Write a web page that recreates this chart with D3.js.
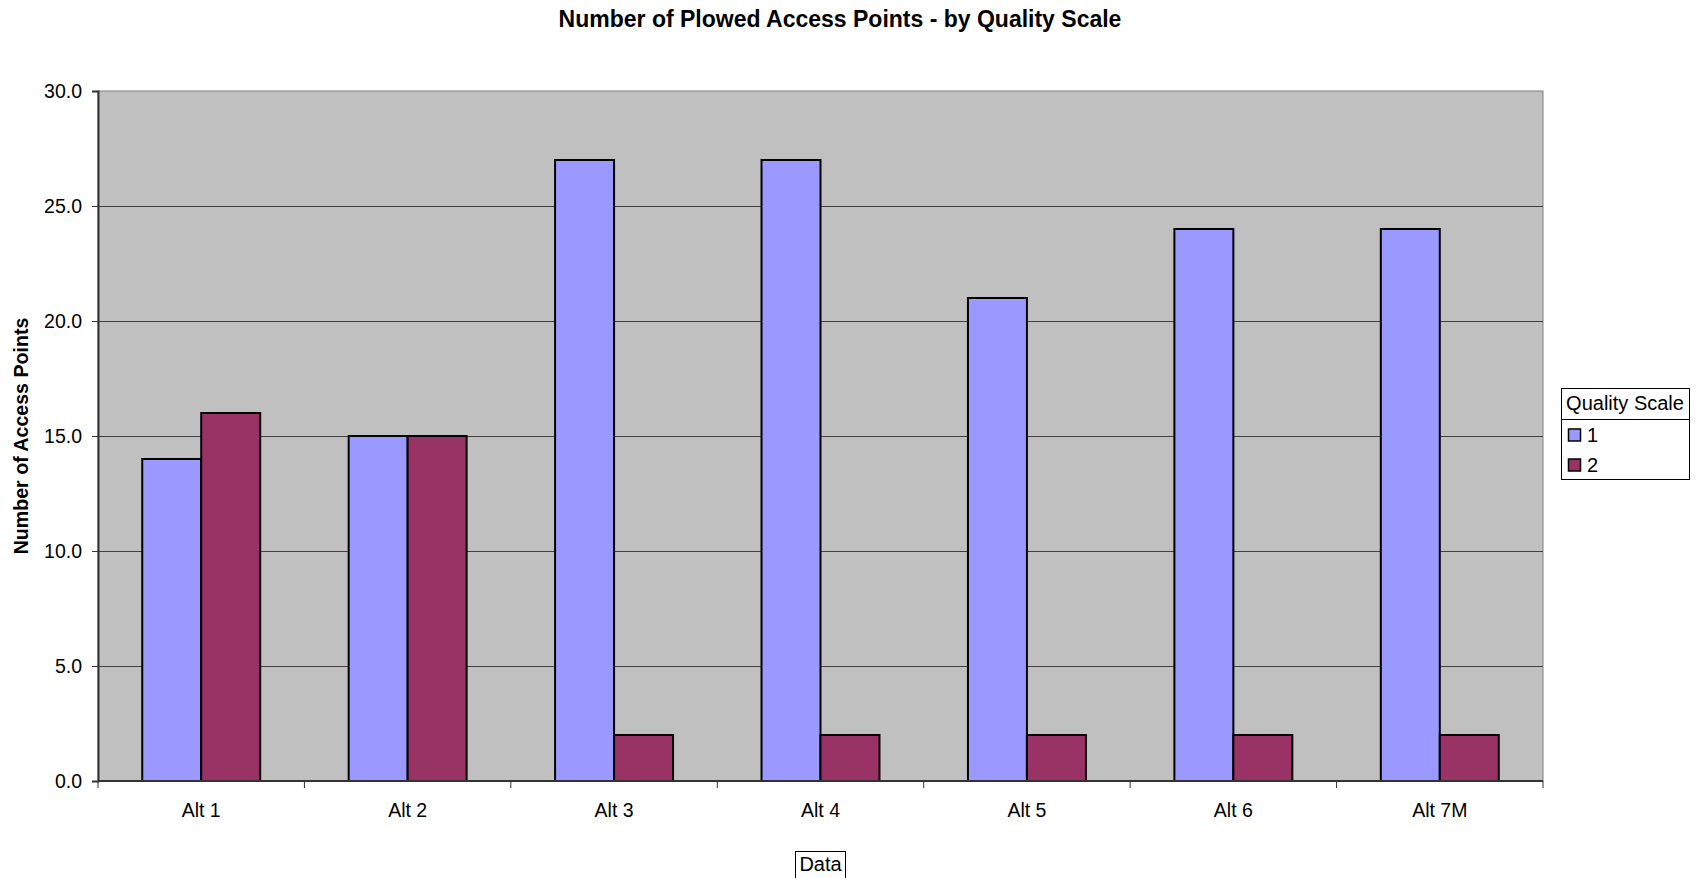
<!DOCTYPE html>
<html>
<head>
    <title>Number of Plowed Access Points</title>
    <script src="https://d3js.org/d3.v7.min.js"></script>
    <style>
        body { margin: 0; background: #fff; }
        text { font-family: Arial, "Liberation Sans", sans-serif; fill: #000; }
    </style>
</head>
<body>
    <svg id="chart" width="1700" height="878"></svg>

    <script>
    // chart data
    const categories = ["Alt 1", "Alt 2", "Alt 3", "Alt 4", "Alt 5", "Alt 6", "Alt 7M"];
    const seriesNames = ["1", "2"];
    const series1 = [14, 15, 27, 27, 21, 24, 24];
    const series2 = [16, 15, 2, 2, 2, 2, 2];
    const yTicks = [0, 5, 10, 15, 20, 25, 30];
    const colors = ["#9999FF", "#993366"];

    const svg = d3.select('#chart');
    const plotLeft = 98, plotRight = 1543, plotTop = 91, plotBottom = 781;

    const x0 = d3.scaleBand().domain(categories).range([plotLeft, plotRight]).padding(0);
    const x1 = d3.scaleBand().domain(seriesNames).range([0, x0.bandwidth()])
        .paddingInner(0).paddingOuter(0.75);
    const y = d3.scaleLinear().domain([0, 30]).range([plotBottom, plotTop]);

    // plot area background
    svg.append('rect')
        .attr('x', plotLeft).attr('y', plotTop)
        .attr('width', plotRight - plotLeft).attr('height', plotBottom - plotTop)
        .attr('fill', '#C0C0C0')
        .attr('stroke', '#808080').attr('stroke-width', 1);

    // gridlines
    svg.append('g')
        .selectAll('line')
        .data(yTicks.filter(d => d > 0 && d < 30))
        .enter()
        .append('line')
        .attr('x1', plotLeft).attr('x2', plotRight)
        .attr('y1', d => Math.round(y(d)) + 0.5).attr('y2', d => Math.round(y(d)) + 0.5)
        .attr('stroke', '#404040').attr('stroke-width', 1);

    // bars
    const rows = categories.map((c, i) => ({ cat: c, values: [series1[i], series2[i]] }));
    const groups = svg.selectAll('.grp')
        .data(rows)
        .enter()
        .append('g')
        .attr('transform', d => `translate(${x0(d.cat)},0)`);

    groups.selectAll('rect')
        .data(d => d.values.map((v, j) => ({ name: seriesNames[j], v: v, j: j })))
        .enter()
        .append('rect')
        .attr('x', d => x1(d.name))
        .attr('y', d => y(d.v))
        .attr('width', x1.bandwidth())
        .attr('height', d => y(0) - y(d.v))
        .attr('fill', d => colors[d.j])
        .attr('stroke', '#000').attr('stroke-width', 2);

    // y axis
    const yAxis = d3.axisLeft(y).tickValues(yTicks).tickSize(6).tickPadding(10)
        .tickFormat(d3.format('.1f'));
    const yg = svg.append('g').attr('transform', `translate(${plotLeft},0)`).call(yAxis);
    yg.select('.domain').attr('stroke', '#333').attr('stroke-width', 2);
    yg.selectAll('.tick line').attr('stroke', '#333');
    yg.selectAll('.tick text').style('font-size', '19.5px').attr('fill', '#000');

    // x axis: ticks at category boundaries
    const xg = svg.append('g').attr('transform', `translate(0,${plotBottom})`);
    xg.append('line').attr('x1', plotLeft).attr('x2', plotRight).attr('y1', 0).attr('y2', 0)
        .attr('stroke', '#333').attr('stroke-width', 2);
    xg.selectAll('.xtick')
        .data(categories.concat(['end']))
        .enter()
        .append('line')
        .attr('x1', (d, i) => i < categories.length ? x0(d) : plotRight)
        .attr('x2', (d, i) => i < categories.length ? x0(d) : plotRight)
        .attr('y1', 0).attr('y2', 7)
        .attr('stroke', '#333');
    xg.selectAll('.xlabel')
        .data(categories)
        .enter()
        .append('text')
        .attr('x', d => x0(d) + x0.bandwidth() / 2)
        .attr('y', 36)
        .attr('text-anchor', 'middle')
        .style('font-size', '19.5px')
        .text(d => d);

    // title
    svg.append('text')
        .attr('x', 840).attr('y', 27)
        .attr('text-anchor', 'middle')
        .style('font-size', '23px').style('font-weight', 'bold')
        .text('Number of Plowed Access Points - by Quality Scale');

    // y axis title
    svg.append('text')
        .attr('transform', 'translate(28,436) rotate(-90)')
        .attr('text-anchor', 'middle')
        .style('font-size', '19.6px').style('font-weight', 'bold')
        .text('Number of Access Points');

    // x axis title in a box
    svg.append('rect')
        .attr('x', 795.5).attr('y', 851.5).attr('width', 50).attr('height', 27)
        .attr('fill', '#fff').attr('stroke', '#000').attr('stroke-width', 1);
    svg.append('text')
        .attr('x', 820.5).attr('y', 871)
        .attr('text-anchor', 'middle')
        .style('font-size', '20px')
        .text('Data');

    // legend
    const legend = svg.append('g').attr('transform', 'translate(1561,388)');
    legend.append('rect')
        .attr('x', 0.5).attr('y', 0.5).attr('width', 128).attr('height', 91)
        .attr('fill', '#fff').attr('stroke', '#000');
    legend.append('line')
        .attr('x1', 0).attr('x2', 128).attr('y1', 31.5).attr('y2', 31.5)
        .attr('stroke', '#000');
    legend.append('text')
        .attr('x', 64).attr('y', 22)
        .attr('text-anchor', 'middle')
        .style('font-size', '20px')
        .text('Quality Scale');
    const items = legend.selectAll('.item')
        .data(seriesNames)
        .enter()
        .append('g')
        .attr('transform', (d, i) => `translate(0, ${47 + i * 30})`);
    items.append('rect')
        .attr('x', 7.5).attr('y', -6).attr('width', 12).attr('height', 12)
        .attr('fill', (d, i) => colors[i])
        .attr('stroke', '#000').attr('stroke-width', 1.5);
    items.append('text')
        .attr('x', 26).attr('y', 7)
        .style('font-size', '20px')
        .text(d => d);
    </script>
</body>
</html>
